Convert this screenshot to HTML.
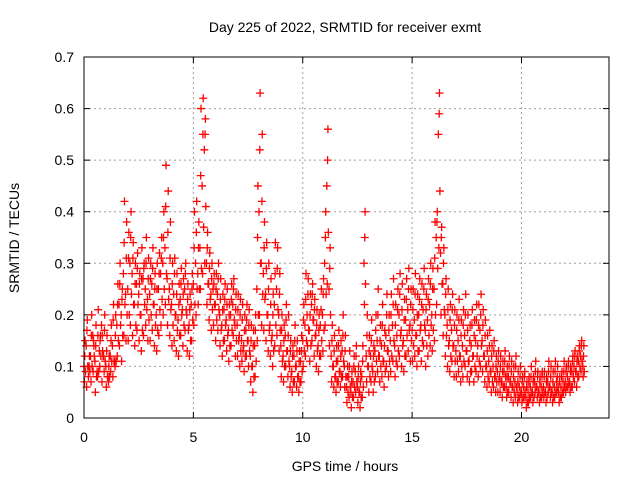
<!DOCTYPE html>
<html><head><meta charset="utf-8"><style>
body{margin:0;background:#fff;}
svg{display:block;font-family:"Liberation Sans",sans-serif;}
</style></head><body>
<svg id="chart" width="640" height="480">
<text x="345" y="32" text-anchor="middle" font-size="14" fill="#000">Day 225 of 2022, SRMTID for receiver exmt</text>
<text transform="translate(19,238) rotate(-90)" text-anchor="middle" font-size="14" fill="#000">SRMTID / TECUs</text>
<text x="345" y="471" text-anchor="middle" font-size="14" fill="#000">GPS time / hours</text>
<g id="grid"></g>
<g id="ticks"></g>
<g id="marks"></g>
<rect x="84" y="57" width="525" height="361" fill="none" stroke="#000" stroke-width="1"/>
</svg>
<script>
const startHour = 0;
const stepHours = 0.1;
const xTicks = [0,5,10,15,20];
const yTicks = [0,0.1,0.2,0.3,0.4,0.5,0.6,0.7];
const yTickLabels = ["0","0.1","0.2","0.3","0.4","0.5","0.6","0.7"];
const seriesA = [.10,.14,.08,.12,.16,.11,.09,.13,.18,.12, .10,.08,.12,.14,.11,.18,.22,.20,.28,.24, .25,.30,.28,.22,.26,.24,.20,.27,.25,.23, .24,.26,.22,.20,.25,.28,.30,.33,.27,.25, .22,.24,.20,.19,.23,.21,.25,.20,.18,.22, .26,.30,.28,.33,.45,.52,.30,.26,.24,.25, .22,.24,.20,.18,.21,.19,.17,.20,.22,.18, .18,.16,.15,.14,.17,.15,.12,.10,.14,.25, .40,.30,.28,.24,.20,.18,.16,.22,.25,.20, .14,.12,.16,.13,.10,.09,.12,.10,.08,.11, .15,.18,.20,.17,.22,.19,.16,.14,.18,.20, .30,.45,.25,.12,.10,.08,.11,.09,.13,.10, .06,.08,.05,.07,.09,.06,.05,.08,.30,.12, .10,.12,.09,.13,.15,.12,.14,.11,.16,.13, .15,.18,.14,.16,.20,.17,.15,.19,.21,.18, .17,.19,.16,.20,.18,.21,.17,.19,.22,.20, .25,.35,.55,.32,.26,.20,.18,.15,.17,.14, .13,.15,.12,.14,.16,.13,.11,.14,.12,.15, .14,.17,.15,.12,.10,.11,.09,.10,.08,.09, .08,.07,.09,.06,.08,.07,.06,.07,.05,.06, .05,.06,.04,.05,.06,.05,.07,.06,.05,.06, .06,.05,.07,.06,.05,.06,.07,.05,.06,.07, .07,.08,.07,.09,.10,.09,.11,.12,.10];
const seriesB = [.15,.19,.12,.20,.14,.18,.21,.16,.13,.20, .16,.12,.18,.22,.20,.26,.30,.25,.42,.38, .36,.40,.34,.30,.32,.28,.33,.30,.35,.31, .30,.33,.28,.30,.32,.35,.40,.49,.44,.38, .30,.31,.28,.26,.29,.27,.30,.26,.24,.28, .40,.42,.38,.60,.62,.58,.36,.32,.30,.28, .28,.30,.27,.24,.26,.25,.22,.26,.27,.24, .24,.23,.22,.20,.22,.21,.18,.17,.20,.45, .63,.55,.38,.34,.30,.27,.24,.34,.33,.28, .20,.18,.22,.20,.15,.14,.18,.15,.13,.16, .22,.28,.27,.24,.26,.23,.21,.20,.25,.27, .40,.56,.33,.18,.16,.14,.17,.15,.20,.16, .10,.13,.09,.12,.14,.10,.09,.14,.40,.20, .16,.19,.14,.20,.25,.18,.22,.17,.24,.20, .24,.27,.22,.25,.28,.26,.23,.27,.29,.25, .25,.28,.24,.27,.26,.29,.24,.27,.30,.29, .38,.40,.63,.37,.33,.27,.25,.22,.24,.21, .20,.23,.19,.21,.24,.20,.18,.21,.19,.22, .22,.24,.21,.19,.16,.17,.14,.15,.12,.13, .12,.11,.13,.10,.12,.11,.10,.12,.09,.10, .08,.09,.07,.08,.10,.08,.11,.09,.08,.09, .09,.08,.11,.10,.09,.11,.10,.08,.09,.11, .10,.11,.10,.12,.13,.12,.14,.15,.14];
const seriesC = [.07,.06,.10,.07,.09,.05,.08,.10,.07,.09, .06,.07,.09,.08,.10,.12,.14,.11,.16,.15, .15,.18,.16,.14,.17,.15,.13,.16,.18,.15, .15,.17,.14,.13,.16,.18,.20,.22,.18,.16, .14,.15,.13,.12,.16,.14,.17,.13,.12,.15, .18,.20,.22,.25,.28,.30,.22,.19,.17,.18, .15,.17,.14,.12,.15,.13,.11,.14,.16,.12, .12,.10,.11,.09,.12,.10,.07,.05,.08,.15, .20,.18,.17,.15,.13,.12,.10,.14,.16,.13, .08,.07,.10,.08,.06,.05,.07,.06,.05,.07, .10,.12,.14,.11,.15,.12,.10,.09,.12,.13, .18,.26,.14,.07,.06,.05,.07,.06,.08,.06, .03,.04,.02,.04,.05,.03,.02,.04,.22,.07, .05,.07,.05,.08,.09,.07,.08,.06,.10,.08, .09,.11,.08,.10,.12,.10,.09,.12,.13,.11, .11,.12,.10,.13,.11,.14,.10,.12,.14,.13, .15,.22,.33,.20,.16,.12,.10,.09,.11,.08, .08,.09,.07,.08,.10,.08,.07,.09,.07,.09, .08,.10,.09,.07,.06,.07,.05,.06,.05,.05, .05,.04,.06,.04,.05,.04,.03,.04,.03,.04, .03,.04,.02,.03,.04,.03,.05,.04,.03,.04, .04,.03,.05,.04,.03,.04,.05,.03,.04,.05, .05,.06,.05,.06,.07,.06,.08,.09,.08];
const seriesD = [.12,.17,.10,.16,.15,.14,.16,.15,.16,.17, .13,.10,.15,.19,.16,.22,.26,.23,.34,.31, .31,.35,.31,.26,.29,.26,.27,.29,.30,.27, .27,.29,.25,.25,.28,.31,.35,.41,.36,.31, .26,.28,.24,.22,.26,.24,.28,.23,.21,.25, .33,.36,.33,.47,.55,.55,.33,.29,.27,.26, .25,.27,.23,.21,.23,.22,.20,.23,.25,.21, .21,.20,.19,.17,.19,.18,.15,.14,.17,.35, .52,.42,.33,.29,.25,.22,.20,.28,.29,.24, .17,.15,.19,.16,.13,.12,.15,.13,.11,.13, .19,.23,.24,.20,.24,.21,.18,.17,.21,.24, .35,.50,.29,.15,.13,.11,.14,.12,.16,.13, .08,.10,.07,.10,.12,.08,.07,.11,.35,.16, .13,.15,.12,.17,.20,.15,.18,.14,.20,.17, .20,.22,.18,.21,.24,.21,.19,.23,.25,.22, .21,.24,.20,.23,.22,.25,.21,.23,.26,.25, .31,.38,.59,.35,.30,.24,.21,.19,.21,.18, .17,.19,.16,.18,.20,.17,.15,.18,.16,.19, .18,.20,.18,.16,.13,.14,.12,.13,.10,.11, .10,.09,.11,.08,.10,.09,.08,.10,.07,.08, .07,.08,.06,.07,.08,.07,.09,.08,.07,.08, .08,.07,.09,.08,.07,.09,.08,.07,.08,.09, .09,.10,.09,.11,.12,.11,.13,.14,.12];
const seriesE = [.09,.10,.09,.10,.12,.08,.09,.12,.12,.11, .08,.08,.11,.11,.11,.15,.18,.16,.22,.20, .20,.24,.22,.18,.22,.20,.17,.22,.21,.19, .20,.22,.18,.17,.21,.23,.25,.28,.23,.21, .18,.20,.17,.16,.20,.18,.21,.17,.15,.19, .22,.25,.25,.29,.37,.41,.26,.23,.21,.22, .19,.21,.17,.15,.18,.16,.14,.17,.19,.15, .15,.13,.13,.12,.15,.13,.10,.08,.11,.20, .30,.24,.23,.20,.17,.15,.13,.18,.21,.17, .11,.10,.13,.11,.08,.07,.10,.08,.07,.09, .13,.15,.17,.14,.19,.16,.13,.12,.15,.17, .24,.36,.20,.10,.08,.07,.09,.08,.11,.08, .05,.06,.04,.06,.07,.05,.04,.06,.26,.10, .08,.10,.07,.11,.12,.10,.11,.09,.13,.11, .12,.15,.11,.13,.16,.14,.12,.16,.17,.15, .14,.16,.13,.17,.15,.18,.14,.16,.18,.17, .20,.29,.44,.26,.21,.16,.14,.12,.14,.11, .11,.12,.10,.11,.13,.11,.09,.12,.10,.12, .11,.14,.12,.10,.08,.09,.07,.08,.07,.07, .07,.06,.08,.05,.07,.06,.05,.06,.04,.05, .04,.05,.03,.04,.05,.04,.06,.05,.04,.05, .05,.04,.06,.05,.04,.05,.06,.04,.05,.06, .06,.07,.06,.08,.09,.08,.10,.11,.09];
const seriesOffsets = [0, 0.05, 0.02, 0.035, 0.07];

const X0=84, X1=609, Y0=418, Y1=57, XMAX=24, YMAX=0.7;
const xs = v => X0 + (v/XMAX)*(X1-X0);
const ys = v => Y0 - (v/YMAX)*(Y0-Y1);
const NS="http://www.w3.org/2000/svg";
const grid=document.getElementById('grid'), ticks=document.getElementById('ticks'), marks=document.getElementById('marks');
function mk(tag, attrs, parent){const e=document.createElementNS(NS,tag);for(const k in attrs)e.setAttribute(k,attrs[k]);parent.appendChild(e);return e;}
xTicks.forEach(t=>{
  const x=xs(t);
  if(t>0){const g=mk('line',{x1:x,y1:Y1,x2:x,y2:Y0,stroke:'#a0a0a0','stroke-dasharray':'2,3'},grid);
  
  }
  mk('line',{x1:x,y1:Y0,x2:x,y2:Y0-6,stroke:'#000'},ticks);
  mk('line',{x1:x,y1:Y1,x2:x,y2:Y1+6,stroke:'#000'},ticks);
  const l=mk('text',{x:x,y:Y0+24,'text-anchor':'middle','font-size':14,fill:'#000'},ticks);
  l.textContent=String(t);
  
  
});
yTicks.forEach((t,i)=>{
  const y=ys(t);
  if(t>0&&t<YMAX){const g=mk('line',{x1:X0,y1:y,x2:X1,y2:y,stroke:'#a0a0a0','stroke-dasharray':'2,3'},grid);
  
  }
  mk('line',{x1:X0,y1:y,x2:X0+6,y2:y,stroke:'#000'},ticks);
  mk('line',{x1:X1,y1:y,x2:X1-6,y2:y,stroke:'#000'},ticks);
  const l=mk('text',{x:X0-10,y:y+5,'text-anchor':'end','font-size':14,fill:'#000'},ticks);
  l.textContent=yTickLabels[i];
  
  
});
function plus(t,v,color){
  const x=xs(t), y=ys(v);
  const p=mk('path',{d:`M${x-4},${y}h8M${x},${y-4}v8`,stroke:color,'stroke-width':1.3,fill:'none'},marks);
  
  
}
[seriesA,seriesB,seriesC,seriesD,seriesE].forEach((s,k)=>{
  s.forEach((v,i)=>plus(startHour+i*stepHours+seriesOffsets[k],v,'#ff0000'));
});
</script>
</body></html>
